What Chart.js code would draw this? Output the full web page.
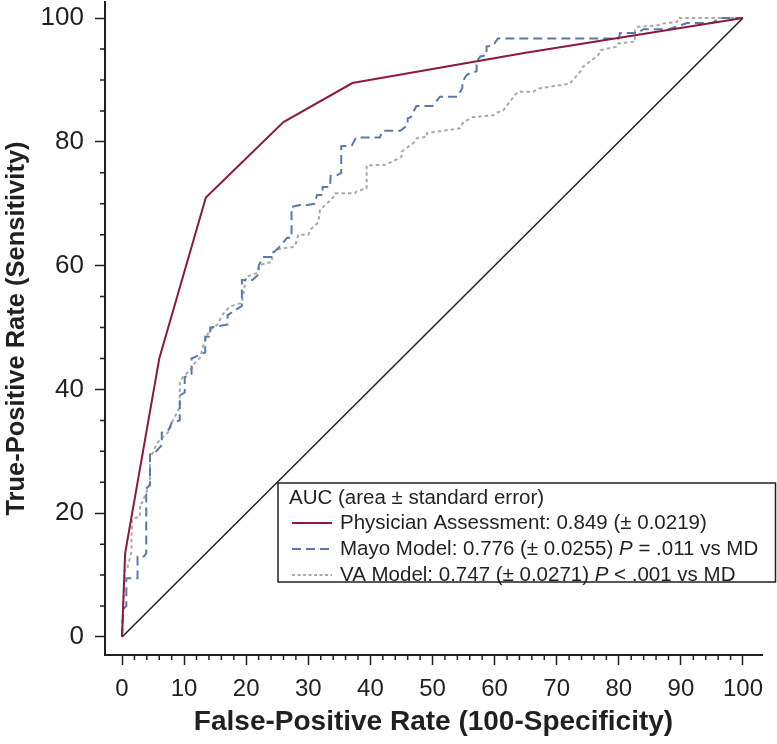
<!DOCTYPE html>
<html>
<head>
<meta charset="utf-8">
<script src="https://cdn.jsdelivr.net/npm/chart.js@4.4.1/dist/chart.umd.min.js"></script>
<style>
  html, body { margin: 0; padding: 0; background: #fff; }
</style>
</head>
<body>
<canvas id="rocChart" width="777" height="744"></canvas>
<script>
// tick labels
var xTicks = [0, 10, 20, 30, 40, 50, 60, 70, 80, 90, 100];
var yTicks = [0, 20, 40, 60, 80, 100];

// ROC points [false-positive rate, true-positive rate]
var physicianPts = [[0, 0], [0.5, 13.5], [6, 45], [13.5, 71], [26, 83.2], [37.1, 89.5], [65, 94.4], [100, 100]];

var mayoPts = [[0, 0], [0.2, 4.5], [0.7, 5], [0.7, 9.5], [2.5, 9.5], [2.5, 13], [3.5, 13], [3.9, 13.5], [3.9, 24],
  [4.5, 24.5], [4.5, 29.5], [5.5, 30], [6.4, 31], [6.4, 33], [7.5, 33.5], [8, 34.6], [9.3, 35], [9.3, 39],
  [10.1, 39.5], [10.1, 42], [11.2, 42.5], [11.2, 45], [13.4, 46], [13.4, 48.5], [14.2, 48.5], [14.2, 50],
  [17, 50.5], [17, 52], [19.3, 53.5], [19.3, 57.7], [21, 57.7], [22, 58.6], [22, 60], [22.7, 61.4], [24.2, 61.4],
  [24.3, 62], [25.3, 63], [26, 63.8], [26.6, 64.5], [27.3, 64.5], [27.3, 69.5], [28.7, 69.8], [29.8, 69.8],
  [31, 70], [31.4, 71.4], [32.3, 71.4], [32.3, 72.7], [33.5, 72.7], [33.6, 74.5], [34.6, 74.6], [35.3, 75],
  [35.3, 79.3], [37, 79.4], [37.7, 80.7], [41.5, 80.7], [42, 81.8], [44.8, 81.8], [46, 82.7], [46, 83.8],
  [46.5, 84], [47.4, 85.8], [50, 85.8], [51.2, 87.3], [54, 87.3], [54.8, 88.7], [54.8, 89.7], [55.5, 90.8],
  [56, 91.1], [57.1, 91.4], [57.1, 93], [57.7, 93.8], [58.7, 94], [58.7, 95.4], [59.8, 95.6], [60.5, 96.7],
  [80, 96.7], [80.2, 97.6], [83, 97.6], [84, 98.2], [88, 98.2], [91, 99.2], [95, 99.2], [96.3, 100], [100, 100]];

var vaPts = [[0, 0], [0.4, 10.8], [0.75, 10.8], [1.5, 13.6], [1.6, 19], [2.6, 19.4], [2.9, 19.4], [2.9, 21.6],
  [3.2, 21.6], [4.5, 24.9], [4.5, 29], [5, 29.8], [5.6, 31.3], [7.7, 33.4], [8, 34.6], [9.3, 37.2], [9.3, 41],
  [9.8, 42], [11.3, 43.5], [11.5, 44], [12.6, 45.2], [13, 46.8], [13.7, 48.8], [14.2, 49.6], [15.3, 50.4],
  [16.3, 52.2], [17, 53], [17.4, 53.4], [19.3, 54], [20, 58.2], [21.7, 58.8], [22.2, 60.1], [24.1, 60.6],
  [24.3, 62.2], [25.4, 62.7], [26, 62.8], [27.5, 63], [27.9, 63.3], [28.4, 65], [30, 65], [30.3, 65.8],
  [31.6, 67], [31.9, 69], [32.4, 69.5], [34, 71], [34.3, 71.7], [37.5, 71.7], [37.8, 72], [39.4, 72.5],
  [39.4, 76.2], [42.4, 76.3], [43.5, 76.8], [45, 77.6], [45, 78.4], [46.9, 79.8], [47.5, 80.6], [49.1, 80.8],
  [49.1, 81.4], [54.4, 82.2], [55, 83.2], [56, 83.7], [56.5, 84], [59.8, 84.3], [60.1, 84.6], [61.4, 85.1],
  [62, 85.9], [63.3, 87.6], [63.8, 88.1], [66.2, 88.1], [67, 88.6], [72.1, 89.4], [72.6, 90], [74, 91.6],
  [74.2, 92.1], [76.7, 94], [77, 94.8], [79.7, 95.4], [79.9, 95.9], [82.6, 96.2], [82.6, 98], [83.1, 98.6],
  [86.2, 98.8], [87, 99.1], [89.4, 99.4], [89.5, 100], [100, 100]];

var chancePts = [[0, 0], [100, 100]];

var legendTitle = 'AUC (area \u00b1 standard error)';
var legendRows = [
  { label: 'Physician Assessment: 0.849 (\u00b1 0.0219)', pval: '' },
  { label: 'Mayo Model: 0.776 (\u00b1 0.0255) ', pval: ' = .011 vs MD' },
  { label: 'VA Model: 0.747 (\u00b1 0.0271) ', pval: ' < .001 vs MD' }
];

var RED = '#8b1a3f', BLUE = '#5a79a8', GREY = '#a9a9a9', INK = '#231f20';
var FONT = '"Liberation Sans", Arial, Helvetica, sans-serif';

function toXY(pts) {
  return pts.map(function(p) { return { x: p[0], y: p[1] }; });
}

// minor tick marks (every 2 on x, every 5 on y)
var minorTicks = {
  id: 'minorTicks',
  afterDraw: function(chart) {
    var ctx = chart.ctx, a = chart.chartArea;
    var xs = chart.scales.x, ys = chart.scales.y;
    ctx.save();
    ctx.strokeStyle = INK;
    ctx.lineWidth = 1.5;
    ctx.beginPath();
    for (var v = 2; v < 100; v += 2) {
      if (v % 10 === 0) continue;
      var px = xs.getPixelForValue(v);
      ctx.moveTo(px, a.bottom);
      ctx.lineTo(px, a.bottom + 5);
    }
    for (var w = 5; w < 100; w += 5) {
      if (w % 20 === 0) continue;
      var py = ys.getPixelForValue(w);
      ctx.moveTo(a.left, py);
      ctx.lineTo(a.left - 5, py);
    }
    ctx.stroke();
    ctx.restore();
  }
};

// boxed legend with italic P
var aucLegend = {
  id: 'aucLegend',
  afterDraw: function(chart) {
    var ctx = chart.ctx, a = chart.chartArea;
    var x0 = a.left + 173, y0 = 483;
    var w = chart.width - 1.5 - x0, h = 99;
    var fs = '20.5px ';
    ctx.save();
    ctx.fillStyle = '#fff';
    ctx.fillRect(x0, y0, w, h);
    ctx.strokeStyle = INK;
    ctx.lineWidth = 1.5;
    ctx.strokeRect(x0, y0, w, h);

    ctx.fillStyle = INK;
    ctx.textBaseline = 'middle';
    ctx.font = fs + FONT;
    ctx.fillText(legendTitle, x0 + 11, y0 + 15);

    var styles = [
      { color: RED, dash: [] },
      { color: BLUE, dash: [9, 5] },
      { color: GREY, dash: [3, 2.5] }
    ];
    legendRows.forEach(function(row, i) {
      var y = y0 + 40 + i * 26;
      ctx.strokeStyle = styles[i].color;
      ctx.lineWidth = 1.8;
      ctx.setLineDash(styles[i].dash);
      ctx.beginPath();
      ctx.moveTo(x0 + 14, y);
      ctx.lineTo(x0 + 54, y);
      ctx.stroke();
      ctx.setLineDash([]);

      var tx = x0 + 62;
      ctx.font = fs + FONT;
      ctx.fillText(row.label, tx, y);
      if (row.pval) {
        tx += ctx.measureText(row.label).width;
        ctx.font = 'italic ' + fs + FONT;
        ctx.fillText('P', tx, y);
        tx += ctx.measureText('P').width;
        ctx.font = fs + FONT;
        ctx.fillText(row.pval, tx, y);
      }
    });
    ctx.restore();
  }
};

Chart.defaults.font.family = FONT;
Chart.defaults.color = INK;

var ctx = document.getElementById('rocChart').getContext('2d');
new Chart(ctx, {
  type: 'scatter',
  data: {
    datasets: [
      { label: 'Physician Assessment', data: toXY(physicianPts), borderColor: RED, borderWidth: 2 },
      { label: 'Mayo Model', data: toXY(mayoPts), borderColor: BLUE, borderWidth: 2, borderDash: [9, 5] },
      { label: 'VA Model', data: toXY(vaPts), borderColor: GREY, borderWidth: 2, borderDash: [3.5, 3] },
      { label: 'Chance', data: toXY(chancePts), borderColor: INK, borderWidth: 1.5 }
    ]
  },
  options: {
    responsive: false,
    animation: false,
    devicePixelRatio: 1,
    showLine: true,
    layout: { padding: { top: 2, right: 15, bottom: 0, left: 0 } },
    elements: {
      point: { radius: 0, hoverRadius: 0 },
      line: { tension: 0, fill: false, borderCapStyle: 'butt' }
    },
    plugins: {
      legend: { display: false },
      tooltip: { enabled: false }
    },
    scales: {
      x: {
        type: 'linear',
        min: -2.74,
        max: 103.06,
        afterBuildTicks: function(scale) {
          scale.ticks = xTicks.map(function(v) { return { value: v }; });
        },
        afterFit: function(scale) {
          scale.height = 89;
          scale.paddingLeft = 0;
          scale.paddingRight = 0;
        },
        ticks: { font: { size: 24 }, color: INK, padding: 10, maxRotation: 0, autoSkip: false },
        grid: { drawOnChartArea: false, drawTicks: true, tickLength: 10, tickWidth: 1.5, tickColor: INK },
        border: { display: true, color: INK, width: 2 },
        title: {
          display: true,
          text: 'False-Positive Rate (100-Specificity)',
          color: INK,
          font: { size: 28, weight: 'bold' },
          padding: { top: 0, bottom: 5 }
        }
      },
      y: {
        type: 'linear',
        min: -2.91,
        max: 102.6,
        afterBuildTicks: function(scale) {
          scale.ticks = yTicks.map(function(v) { return { value: v }; });
        },
        afterFit: function(scale) {
          scale.width = 105;
          scale.paddingTop = 0;
          scale.paddingBottom = 0;
        },
        ticks: { font: { size: 26 }, color: INK, padding: 11, autoSkip: false },
        grid: { drawOnChartArea: false, drawTicks: true, tickLength: 10, tickWidth: 1.5, tickColor: INK },
        border: { display: true, color: INK, width: 2 },
        title: {
          display: true,
          text: 'True-Positive Rate (Sensitivity)',
          color: INK,
          font: { size: 25.5, weight: 'bold' },
          padding: { top: 2, bottom: 0 }
        }
      }
    }
  },
  plugins: [minorTicks, aucLegend]
});
</script>
</body>
</html>
